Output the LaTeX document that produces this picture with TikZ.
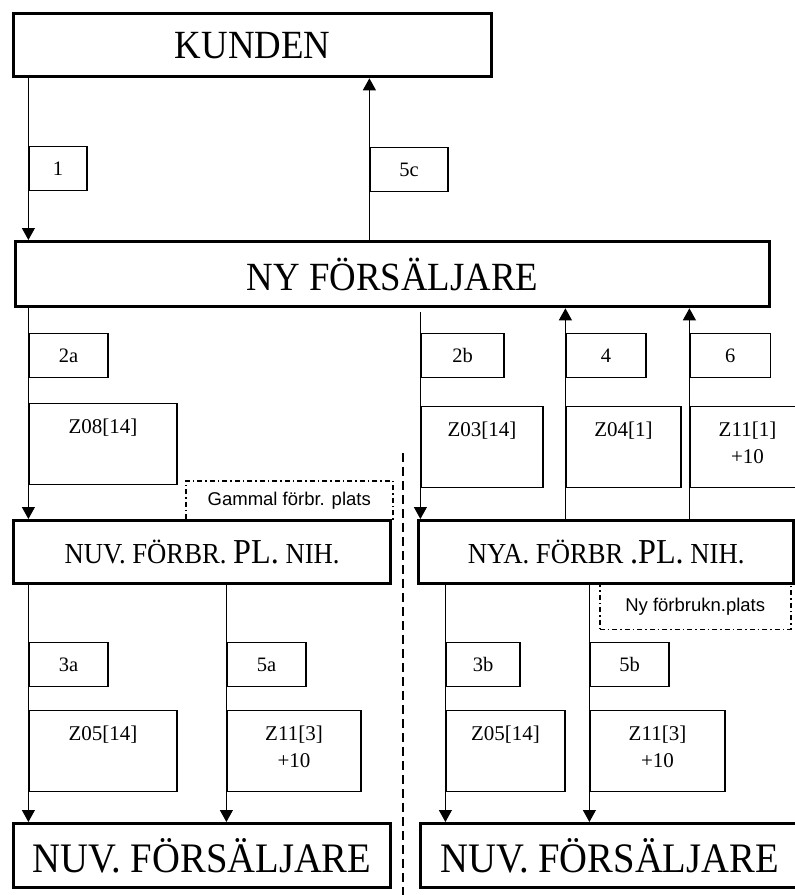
\documentclass[tikz,border=0pt]{standalone}
\usepackage{fontspec}
\setmainfont{Liberation Serif}
\newfontfamily\tallfont{Liberation Serif}[FakeStretch=0.92]
\newfontfamily\arialfont{Liberation Sans}
\usepackage{tikz}
\usetikzlibrary{shapes,arrows.meta,positioning}

\tikzset{
  party/.style={draw, line width=3.3pt, inner sep=0pt, anchor=north west, minimum height=63pt},
  nrbox/.style={draw, line width=1.2pt, inner sep=0pt, anchor=north west, minimum height=44pt,
    font=\fontsize{20.5}{24}\selectfont},
  zbox/.style={draw, line width=1.2pt, inner sep=0pt, anchor=north west, minimum height=81pt,
    label={[font=\fontsize{21}{27}\selectfont, align=center, anchor=north, inner sep=0pt, yshift=-16pt]north:{#1}}},
  platsbox/.style={draw, line width=1.5pt, dash pattern=on 5pt off 3pt on 1.5pt off 3pt,
    inner sep=0pt, anchor=north west, font=\arialfont\fontsize{18.5}{22}\selectfont},
  flow/.style={line width=1pt, -{Triangle[length=12pt,width=13pt]}},
  divider/.style={line width=2.2pt, dash pattern=on 9pt off 5pt},
}

\begin{document}
\begin{tikzpicture}[x=1pt, y=-1pt]
  \useasboundingbox (0,0) rectangle (795,895);

  % places (under the parties)
  \node[platsbox, minimum width=207, minimum height=40] (gammal) at (185,480) {Gammal förbr. plats};
  \node[platsbox, minimum width=191, minimum height=45] (nyplats) at (599,583.5) {Ny förbrukn.plats};

  % parties
  \node[party, minimum width=478, font=\tallfont\fontsize{40}{44}\selectfont] (kunden) at (12,12) {KUNDEN};
  \node[party, minimum width=754, minimum height=65, font=\tallfont\fontsize{40}{44}\selectfont] (ny) at (14,240) {NY FÖRSÄLJARE};
  \node[party, minimum width=377, font=\tallfont\fontsize{29}{34}\selectfont] (nuvpl) at (12,519)
    {NUV. FÖRBR. {\fontsize{35}{40}\selectfont PL.} NIH.};
  \node[party, minimum width=375, font=\tallfont\fontsize{29}{34}\selectfont] (nyapl) at (417,519)
    {NYA. FÖRBR {\fontsize{35}{40}\selectfont .PL.} NIH.};
  \node[party, minimum width=377, minimum height=64, font=\tallfont\fontsize{42}{46}\selectfont] (nuvsl) at (12,822) {NUV. FÖRSÄLJARE};
  \node[party, minimum width=378, minimum height=64, font=\tallfont\fontsize{42}{46}\selectfont] (nuvsr) at (419,822) {NUV. FÖRSÄLJARE};

  % step numbers
  \node[nrbox, minimum width=58] (n1) at (28.4,146) {1};
  \node[nrbox, minimum width=78] (n5c) at (369.4,147) {5c};
  \node[nrbox, minimum width=79] (n2a) at (28.4,333) {2a};
  \node[nrbox, minimum width=83] (n2b) at (420.4,333) {2b};
  \node[nrbox, minimum width=80] (n4) at (565.4,333) {4};
  \node[nrbox, minimum width=80.4] (n6) at (689.4,333) {6};
  \node[nrbox, minimum width=79] (n3a) at (28.4,642) {3a};
  \node[nrbox, minimum width=79] (n5a) at (226.4,642) {5a};
  \node[nrbox, minimum width=74] (n3b) at (445.4,642) {3b};
  \node[nrbox, minimum width=79] (n5b) at (589.4,642) {5b};

  % messages
  \node[zbox={Z08[14]}, minimum width=148] (z08) at (28.4,403) {};
  \node[zbox={Z03[14]}, minimum width=122] (z03) at (420.4,406) {};
  \node[zbox={Z04[1]}, minimum width=115] (z04) at (565.4,406) {};
  \node[zbox={Z11[1]\\+10}, minimum width=115] (z11a) at (689.4,406) {};
  \node[zbox={Z05[14]}, minimum width=148] (z05a) at (28.4,710) {};
  \node[zbox={Z11[3]\\+10}, minimum width=134] (z11b) at (226.4,710) {};
  \node[zbox={Z05[14]}, minimum width=119] (z05b) at (445.4,710) {};
  \node[zbox={Z11[3]\\+10}, minimum width=135] (z11c) at (589.4,710) {};

  % flows
  \draw[flow] (kunden.south -| n1.west) -- (ny.north -| n1.west);
  \draw[flow] (ny.north -| n5c.west) -- (kunden.south -| n5c.west);
  \draw[flow] (ny.south -| n2a.west) -- (nuvpl.north -| n2a.west);
  \draw[flow] (ny.south -| n2b.west) ++(0,4) -- (nyapl.north -| n2b.west);
  \draw[flow] (nyapl.north -| n4.west) -- (ny.south -| n4.west);
  \draw[flow] (nyapl.north -| n6.west) -- (ny.south -| n6.west);
  \draw[flow] (nuvpl.south -| n3a.west) -- (nuvsl.north -| n3a.west);
  \draw[flow] (nuvpl.south -| n5a.west) -- (nuvsl.north -| n5a.west);
  \draw[flow] (nyapl.south -| n3b.west) -- (nuvsr.north -| n3b.west);
  \draw[flow] (nyapl.south -| n5b.west) -- (nuvsr.north -| n5b.west);

  % old / new side
  \coordinate (divtop) at (403,453);
  \coordinate (divbot) at (403,895);
  \draw[divider] (divtop) -- (divbot);
\end{tikzpicture}
\end{document}
